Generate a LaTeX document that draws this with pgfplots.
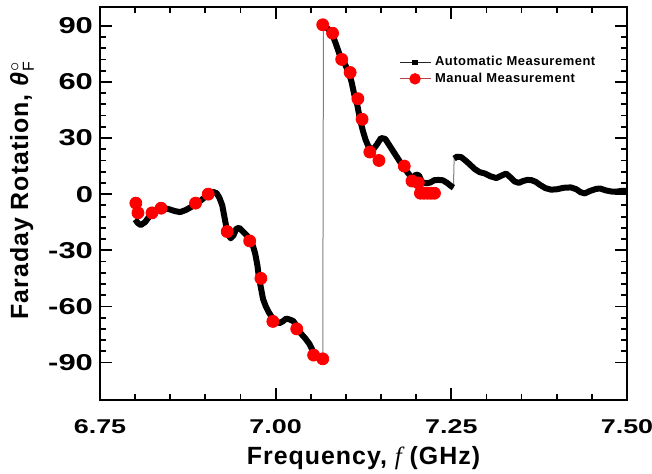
\documentclass[border=0pt]{standalone}
\usepackage{pgfplots}
\pgfplotsset{compat=1.18}
\usepackage{pgfplotstable}
\usepackage{fontspec}
\setmainfont{Liberation Sans}[LetterSpace=4]
\newfontfamily\tickfont{Liberation Sans}[FakeStretch=1.35]
\newfontfamily\serifit{Liberation Serif}

% automatic measurement (nan rows mark the two jumps)
\pgfplotstableread{
f v
6.800 -13.5
6.804 -15.5
6.808 -16.5
6.814 -15
6.820 -12
6.826 -9.5
6.832 -8
6.840 -7.5
6.848 -8
6.856 -9
6.864 -9.6
6.872 -8.5
6.880 -6.8
6.890 -4.5
6.898 -2
6.905 0
6.911 1.2
6.916 0.5
6.920 -2
6.924 -6
6.927 -12
6.930 -18
6.933 -22
6.936 -23.6
6.940 -22
6.944 -18.5
6.948 -18
6.952 -19.5
6.956 -21
6.960 -22.5
6.964 -24.6
6.968 -28
6.971 -32
6.974 -38
6.976 -44
6.979 -50
6.982 -56
6.986 -60
6.990 -63
6.995 -66
7.000 -67.5
7.005 -69
7.010 -68
7.015 -66.5
7.020 -67
7.025 -67.8
7.030 -70.5
7.036 -74.5
7.042 -77
7.048 -80
7.054 -84.5
7.060 -87
7.067 -89
nan nan
7.068 90
7.074 88.5
7.080 86
7.086 80
7.092 73.5
7.098 70
7.104 65
7.108 60
7.112 53
7.116 48
7.120 40
7.124 34
7.128 29
7.132 25.5
7.138 23.5
7.144 26.5
7.150 30
7.156 29.5
7.162 26
7.168 22.5
7.174 19
7.180 15.5
7.186 12.5
7.192 9.5
7.196 9
7.200 10.5
7.204 10
7.208 6.5
7.214 5.8
7.220 6.2
7.226 7.5
7.232 7.6
7.238 7.4
7.244 6
7.250 4.2
7.253 3.5
nan nan
7.254 19
7.258 20
7.264 19.8
7.270 18
7.276 16
7.283 13.5
7.290 11.8
7.298 11
7.306 9.5
7.314 8.6
7.322 10
7.328 11
7.334 9
7.340 6.8
7.346 6
7.352 7
7.358 7.6
7.364 7.5
7.370 6.6
7.376 5
7.384 3.2
7.392 2.4
7.400 2.6
7.410 3.4
7.420 3.6
7.428 2.6
7.434 1
7.440 0.4
7.448 1.8
7.456 2.8
7.462 3
7.470 2
7.478 1.4
7.486 1.4
7.494 1.8
7.500 1.8
}\auto

% manual measurement
\pgfplotstableread{
f v
6.801 -4.8
6.804 -10
6.824 -10
6.837 -7.5
6.886 -4.8
6.904 0
6.931 -20
6.963 -25
6.979 -45
6.996 -68
7.030 -72
7.054 -86
7.067 -88
7.067 90.5
7.081 86
7.094 72
7.106 65
7.117 51
7.123 40
7.134 22.5
7.147 18
7.183 15
7.194 7
7.203 6
7.206 0.5
7.211 0.5
7.216 0.5
7.221 0.5
7.226 0.5
}\manual

\begin{document}
\begin{tikzpicture}
\begin{axis}[
    scale only axis,
    width=263.5bp, height=196.5bp,
    xmin=6.75, xmax=7.5,
    ymin=-110, ymax=100,
    xtick={6.75,7,7.25,7.5},
    ytick={-90,-60,...,90},
    minor x tick num=4,
    minor y tick num=4,
    major tick length=6bp,
    minor tick length=3bp,
    axis line style={line width=1bp},
    tick style={line width=0.9bp, black},
    /pgf/number format/assume math mode=true,
    xticklabel style={font=\tickfont\bfseries\fontsize{10}{12}\selectfont, yshift=-6.5bp,
        /pgf/number format/fixed, /pgf/number format/fixed zerofill, /pgf/number format/precision=2},
    yticklabel style={font=\tickfont\bfseries\fontsize{11.5}{13}\selectfont},
    label style={font=\bfseries\fontsize{12.5}{15}\selectfont},
    xlabel={Frequency, {\serifit\mdseries\itshape f} (GHz)},
    ylabel={Faraday Rotation, \textit{θ}$^{\circ}_{\mbox{\mdseries\fontsize{8}{8}\selectfont F}}$},
    xlabel style={at={(axis description cs:0.5,-0.149)}, anchor=center},
    ylabel style={at={(axis description cs:-0.148,0.534)}, anchor=center},
    legend cell align=left,
    legend style={draw=none, fill=none, at={(axis cs:7.175,76)}, anchor=north west,
        font=\bfseries\fontsize{6.5}{8}\selectfont, row sep=-2bp, inner sep=0pt},
    legend image code/.code={\draw[mark repeat=2,mark phase=2,#1] plot coordinates {(0bp,0bp) (7.75bp,0bp) (15.5bp,0bp)};},
]
  % thin connecting line, also across the jumps
  \addplot[gray, line width=0.5bp, no marks, forget plot] table[x=f, y=v] {\auto};
  % thick automatic trace
  \addplot[black, line width=3bp, no marks, line join=round, unbounded coords=jump, forget plot] table[x=f, y=v] {\auto};
  % manual points
  \addplot[only marks, mark=*, mark size=3bp, red, forget plot] table[x=f, y=v] {\manual};

  \addlegendimage{black!85, line width=0.5bp, mark=square*, mark size=1.1bp, mark options={black}}
  \addlegendentry{Automatic Measurement}
  \addlegendimage{red!45!gray, line width=0.5bp, mark=*, mark size=2.6bp, mark options={red, fill=red}}
  \addlegendentry{Manual Measurement}
\end{axis}
\pgfresetboundingbox
\path[use as bounding box] (-50bp,-37bp) rectangle (276bp,200bp);
\end{tikzpicture}
\end{document}
